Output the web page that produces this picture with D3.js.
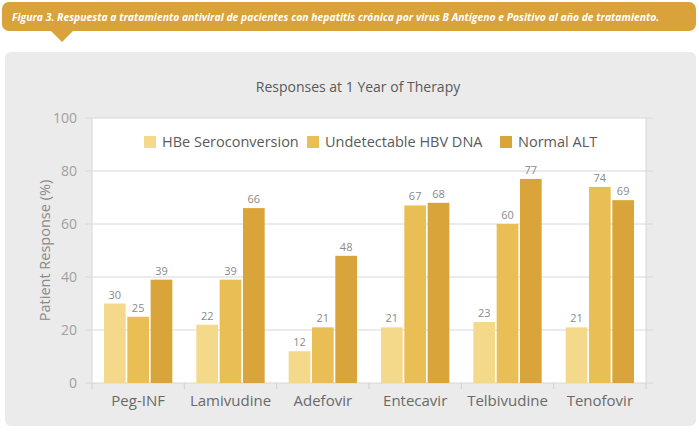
<!DOCTYPE html>
<html>
<head>
<meta charset="utf-8">
<script src="https://d3js.org/d3.v7.min.js"></script>
<style>
body { margin: 0; background: #fff; font-family: "Open Sans", "DejaVu Sans", sans-serif; }
svg { display: block; }
.tick-y { fill: #a0a0a0; font-size: 14px; }
.cat { fill: #6a6a6a; font-size: 15px; }
.val { fill: #8a8a8a; font-size: 11px; }
.legend { fill: #5a5a5a; font-size: 14.5px; }
.caption { fill: #fff; font-family: "Open Sans", "DejaVu Sans", sans-serif;
  font-style: italic; font-weight: bold; font-size: 11px; }
</style>
</head>
<body>
<div id="chart"></div>
<script>
var width = 699, height = 432;

var categories = ["Peg-INF", "Lamivudine", "Adefovir", "Entecavir", "Telbivudine", "Tenofovir"];
var series = ["HBe Seroconversion", "Undetectable HBV DNA", "Normal ALT"];
var hbe = [30, 22, 12, 21, 23, 21];
var hbvDna = [25, 39, 21, 67, 60, 74];
var alt = [39, 66, 48, 68, 77, 69];
var yTicks = [0, 20, 40, 60, 80, 100];
var colors = ["#f5d98a", "#e8be55", "#d9a53a"];

var values = [hbe, hbvDna, alt];

var svg = d3.select("#chart").append("svg")
  .attr("width", width).attr("height", height);

// caption banner
svg.append("rect").attr("x", 2).attr("y", 2).attr("width", 694).attr("height", 29)
  .attr("rx", 7).attr("fill", "#d9a23b");
svg.append("path").attr("d", "M50,30 L74,30 L62,42 Z").attr("fill", "#d9a23b");
var cap = svg.append("text").attr("class", "caption")
  .text("Figura 3. Respuesta a tratamiento antiviral de pacientes con hepatitis crónica por virus B Antígeno e Positivo al año de tratamiento.");
// squeeze horizontally like the condensed original font
var capW = cap.node().getComputedTextLength();
cap.attr("transform", "translate(12,21) scale(" + (648 / capW) + ",1)");

// gray panel
svg.append("rect").attr("x", 5).attr("y", 52).attr("width", 691).attr("height", 374)
  .attr("rx", 6).attr("fill", "#ebebeb");

var plot = { left: 92, right: 646, top: 118, bottom: 383 };

var x = d3.scaleBand().domain(categories).range([plot.left, plot.right]);
var xs = d3.scaleBand().domain(series).range([12, x.bandwidth() - 12]).paddingInner(0.07);
var y = d3.scaleLinear().domain([0, 100]).range([plot.bottom, plot.top]);

svg.append("rect").attr("x", plot.left).attr("y", plot.top)
  .attr("width", plot.right - plot.left).attr("height", plot.bottom - plot.top)
  .attr("fill", "#fff");

// grid
svg.append("g").selectAll("line").data(yTicks).join("line")
  .attr("x1", plot.left - 7).attr("x2", plot.right + 7)
  .attr("y1", function (d) { return y(d); }).attr("y2", function (d) { return y(d); })
  .attr("stroke", "#d8d8d8").attr("stroke-width", 1);

svg.append("line").attr("x1", plot.left).attr("x2", plot.left)
  .attr("y1", plot.top).attr("y2", plot.bottom).attr("stroke", "#d8d8d8");
svg.append("line").attr("x1", plot.right).attr("x2", plot.right)
  .attr("y1", plot.top).attr("y2", plot.bottom).attr("stroke", "#d8d8d8");

svg.append("g").selectAll("text").data(yTicks).join("text")
  .attr("class", "tick-y")
  .attr("x", 77).attr("y", function (d) { return y(d) + 5; })
  .attr("text-anchor", "end").text(function (d) { return d; });

svg.append("text").attr("class", "tick-y")
  .attr("transform", "translate(50," + ((plot.top + plot.bottom) / 2) + ") rotate(-90)")
  .attr("text-anchor", "middle").style("fill", "#8a8a8a").style("font-size", "14.5px")
  .text("Patient Response (%)");

svg.append("text").attr("x", 358).attr("y", 92).attr("text-anchor", "middle")
  .style("fill", "#5a5a5a").style("font-size", "14px")
  .text("Responses at 1 Year of Therapy");

// category ticks + labels
var bounds = categories.map(function (c) { return x(c); }).concat([plot.right]);
svg.append("g").selectAll("line").data(bounds).join("line")
  .attr("x1", function (d) { return d; }).attr("x2", function (d) { return d; })
  .attr("y1", plot.bottom).attr("y2", plot.bottom + 6)
  .attr("stroke", "#cfcfcf");

svg.append("g").selectAll("text").data(categories).join("text")
  .attr("class", "cat")
  .attr("x", function (d) { return x(d) + x.bandwidth() / 2; })
  .attr("y", 406).attr("text-anchor", "middle").text(function (d) { return d; });

// bars
var groups = svg.append("g").selectAll("g").data(categories).join("g")
  .attr("transform", function (d) { return "translate(" + x(d) + ",0)"; });

groups.each(function (c, ci) {
  var g = d3.select(this);
  series.forEach(function (s, si) {
    var v = values[si][ci];
    g.append("rect")
      .attr("x", xs(s)).attr("width", xs.bandwidth())
      .attr("y", y(v)).attr("height", y(0) - y(v))
      .attr("fill", colors[si]);
    g.append("text").attr("class", "val")
      .attr("x", xs(s) + xs.bandwidth() / 2).attr("y", y(v) - 5)
      .attr("text-anchor", "middle").text(v);
  });
});

// legend
var legendX = [144, 307, 500];
var lg = svg.append("g").selectAll("g").data(series).join("g")
  .attr("transform", function (d, i) { return "translate(" + legendX[i] + ",136)"; });
lg.append("rect").attr("width", 12).attr("height", 12)
  .attr("fill", function (d, i) { return colors[i]; });
lg.append("text").attr("class", "legend").attr("x", 18).attr("y", 11)
  .text(function (d) { return d; });
</script>
</body>
</html>
